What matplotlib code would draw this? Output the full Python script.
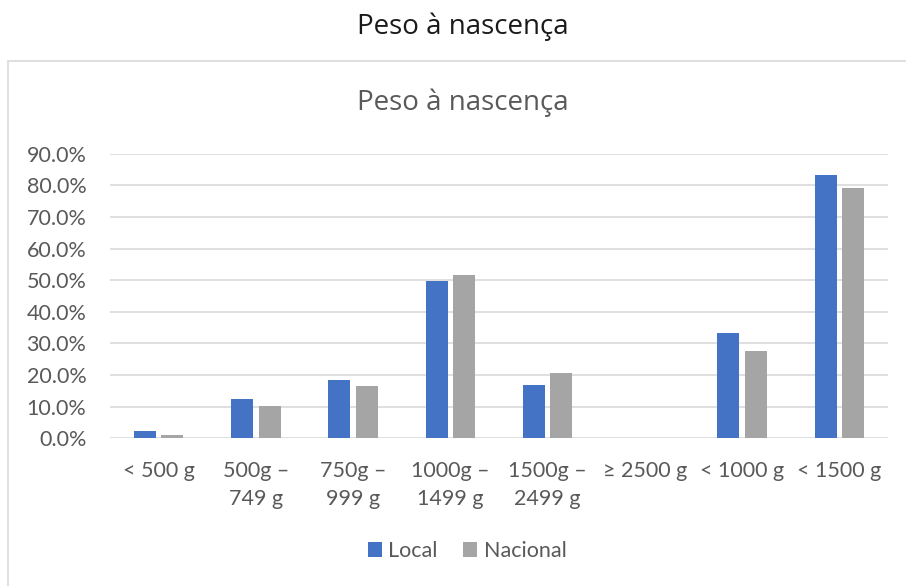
import matplotlib
matplotlib.use("Agg")
import matplotlib.pyplot as plt
import numpy as np
from matplotlib.patches import Rectangle
from matplotlib.ticker import FuncFormatter

plt.rcParams['font.family'] = ['Lato', 'DejaVu Sans']

categories = ["< 500 g", "500g –\n749 g", "750g –\n999 g", "1000g –\n1499 g",
              "1500g –\n2499 g", "≥ 2500 g", "< 1000 g", "< 1500 g"]
local = [2.3, 12.4, 18.5, 49.9, 16.9, 0.0, 33.3, 83.3]
nacional = [1.0, 10.2, 16.5, 51.5, 20.7, 0.0, 27.6, 79.2]

fig = plt.figure(figsize=(9.06, 5.86), dpi=100)
W, H = 906, 586

# chart frame (runs off the right and bottom edges like the screenshot)
fig.patches.append(Rectangle((8 / W, -0.1), 1, (H - 61) / H + 0.1, transform=fig.transFigure,
                             fill=False, edgecolor="#D9D9D9", linewidth=1.2))

fig.text(463 / W, 1 - 27 / H, "Peso à nascença", ha="center", va="center",
         fontsize=20, color="#1a1a1a", family=["Open Sans", "DejaVu Sans"])
fig.text(463 / W, 1 - 103 / H, "Peso à nascença", ha="center", va="center",
         fontsize=20, color="#595959", family=["Open Sans", "DejaVu Sans"])

ax = fig.add_axes([110 / W, (H - 438.3) / H, (888 - 110) / W, (438.3 - 153.7) / H])
x = np.arange(len(categories))
w = 0.226
ax.bar(x - 0.142, local, w, color="#4472C4", label="Local", zorder=3)
ax.bar(x + 0.142, nacional, w, color="#A5A5A5", label="Nacional", zorder=3)

ax.set_xlim(-0.5, len(categories) - 0.5)
ax.set_ylim(0, 90)
ax.set_yticks(np.arange(0, 91, 10))
ax.yaxis.set_major_formatter(FuncFormatter(lambda v, p: f"{v:.1f}%"))
ax.grid(axis="y", color="#D9D9D9", linewidth=1.2, zorder=0)
ax.set_xticks(x)
ax.set_xticklabels(categories, linespacing=1.5)
for s in ax.spines.values():
    s.set_visible(False)
ax.tick_params(axis="both", length=0, labelsize=15.5, colors="#595959")
ax.tick_params(axis="y", pad=17)
ax.tick_params(axis="x", pad=16)

leg = fig.legend(loc="center", bbox_to_anchor=(467 / W, 1 - 551 / H), ncol=2,
                 frameon=False, fontsize=15.5, handlelength=0.65, handleheight=0.65,
                 handletextpad=0.3, columnspacing=1.2)
for t in leg.get_texts():
    t.set_color("#595959")

fig.savefig("out.png", dpi=100)
